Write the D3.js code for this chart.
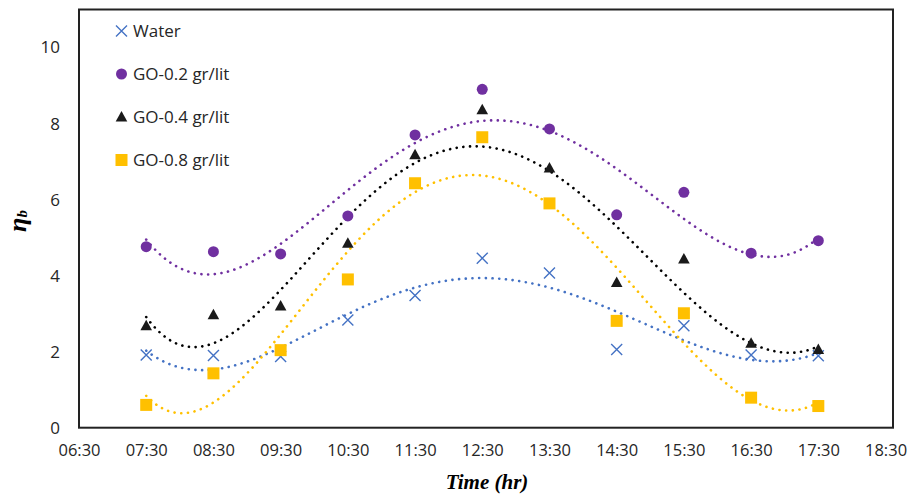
<!DOCTYPE html>
<meta charset="utf-8">
<style>
body { margin: 0; background: #fff; }
text { font-family: "Open Sans", sans-serif; fill: #262626; }
.title { font-family: "Liberation Serif", "Times New Roman", serif; font-weight: bold; font-style: italic; fill: #000; }
.trend { fill: none; stroke-width: 2.6; stroke-linecap: round; stroke-dasharray: 0.1 6.6; }
</style>
<svg width="912" height="496"></svg>
<script src="https://cdn.jsdelivr.net/npm/d3@7"></script>
<script>

// data
var times = ["07:30", "08:30", "09:30", "10:30", "11:30", "12:30", "13:30", "14:30", "15:30", "16:30", "17:30"];
var xTicks = ["06:30", "07:30", "08:30", "09:30", "10:30", "11:30", "12:30", "13:30", "14:30", "15:30", "16:30", "17:30", "18:30"];
var xDomain = ["06:30:00", "18:36:40"];
var yTicks = [0, 2, 4, 6, 8, 10];

var water = [1.91, 1.90, 1.87, 2.83, 3.48, 4.46, 4.07, 2.06, 2.68, 1.91, 1.89];
var go02  = [4.76, 4.63, 4.57, 5.57, 7.70, 8.90, 7.86, 5.60, 6.19, 4.59, 4.92];
var go04  = [2.68, 2.97, 3.20, 4.85, 7.18, 8.36, 6.83, 3.82, 4.44, 2.22, 2.06];
var go08  = [0.60, 1.43, 2.04, 3.90, 6.43, 7.64, 5.90, 2.81, 3.01, 0.79, 0.57];

var names  = ["Water", "GO-0.2 gr/lit", "GO-0.4 gr/lit", "GO-0.8 gr/lit"];
var colors = ["#4472C4", "#7030A0", "#000000", "#FFC000"];
var shapes = ["cross", "circle", "triangle", "square"];
var trendOrder = 5;

var svg = d3.select("svg"),
    margin = {top: 9.5, right: 19, bottom: 68.3, left: 79},
    width = svg.attr("width") - margin.left - margin.right,
    height = svg.attr("height") - margin.top - margin.bottom,
    g = svg.append("g").attr("transform", "translate(" + margin.left + "," + margin.top + ")");

var parseTime = d3.timeParse("%H:%M");
var parseFull = d3.timeParse("%H:%M:%S");

var x = d3.scaleTime().domain(xDomain.map(parseFull)).range([0, width]),
    y = d3.scaleLinear().domain([0, 11]).range([height, 0]);

var series = [water, go02, go04, go08].map(function(vals, i) {
  return {
    name: names[i], color: colors[i], shape: shapes[i],
    values: times.map(function(t, j) { return {date: parseTime(t), v: vals[j]}; })
  };
});

// least squares polynomial trendline, like the spreadsheet one
function polyfit(xs, ys, order) {
  var n = order + 1, A = [], b = [];
  for (var r = 0; r < n; r++) {
    A.push([]);
    for (var c = 0; c < n; c++) A[r].push(d3.sum(xs, function(xv) { return Math.pow(xv, r + c); }));
    b.push(d3.sum(xs, function(xv, k) { return ys[k] * Math.pow(xv, r); }));
  }
  for (var p = 0; p < n; p++) {
    var best = p;
    for (var q = p + 1; q < n; q++) if (Math.abs(A[q][p]) > Math.abs(A[best][p])) best = q;
    var tmp = A[p]; A[p] = A[best]; A[best] = tmp;
    var tb = b[p]; b[p] = b[best]; b[best] = tb;
    for (var q2 = p + 1; q2 < n; q2++) {
      var f = A[q2][p] / A[p][p];
      for (var c2 = p; c2 < n; c2++) A[q2][c2] -= f * A[p][c2];
      b[q2] -= f * b[p];
    }
  }
  var coef = new Array(n);
  for (var i = n - 1; i >= 0; i--) {
    var s = b[i];
    for (var j = i + 1; j < n; j++) s -= A[i][j] * coef[j];
    coef[i] = s / A[i][i];
  }
  return function(xv) { return d3.sum(coef, function(cf, k) { return cf * Math.pow(xv, k); }); };
}

var t0 = parseTime("12:30");
function hrs(d) { return (d - t0) / 3600000; }

var line = d3.line()
    .x(function(d) { return x(d.date); })
    .y(function(d) { return y(d.v); });

// trendlines
series.forEach(function(s) {
  var fit = polyfit(s.values.map(function(d) { return hrs(d.date); }), s.values.map(function(d) { return d.v; }), trendOrder);
  var first = s.values[0].date, last = s.values[s.values.length - 1].date;
  var pts = d3.range(0, 201).map(function(k) {
    var dt = new Date(+first + (last - first) * k / 200);
    return {date: dt, v: fit(hrs(dt))};
  });
  g.append("path")
    .attr("class", "trend")
    .attr("stroke", s.color)
    .attr("d", line(pts));
});

function drawMarker(sel, shape, color) {
  if (shape === "circle") {
    sel.append("circle").attr("r", 5.5).attr("fill", color);
  } else if (shape === "square") {
    sel.append("rect").attr("x", -6).attr("y", -6).attr("width", 12).attr("height", 12).attr("fill", color);
  } else if (shape === "triangle") {
    sel.append("path").attr("d", "M0,-6L5.8,4.5L-5.8,4.5Z").attr("fill", "#1a1a1a");
  } else {
    sel.append("path").attr("d", "M-5.5,-5.5L5.5,5.5M-5.5,5.5L5.5,-5.5")
      .attr("stroke", color).attr("stroke-width", 1.4).attr("fill", "none");
  }
}

// markers
series.forEach(function(s) {
  g.append("g").selectAll("g")
    .data(s.values)
    .enter().append("g")
      .attr("transform", function(d) { return "translate(" + x(d.date) + "," + y(d.v) + ")"; })
      .each(function() { drawMarker(d3.select(this), s.shape, s.color); });
});

// frame
g.append("rect")
  .attr("width", width).attr("height", height)
  .attr("fill", "none").attr("stroke", "#222").attr("stroke-width", 2);

// axes
g.append("g")
  .attr("transform", "translate(0," + height + ")")
  .call(d3.axisBottom(x).tickValues(xTicks.map(parseTime)).tickFormat(d3.timeFormat("%H:%M")).tickSize(0).tickPadding(17))
  .call(function(a) { a.select(".domain").remove(); })
  .selectAll("text").style("font-size", "16.5px").attr("fill", "#262626").attr("font-family", null);

g.append("g")
  .call(d3.axisLeft(y).tickValues(yTicks).tickSize(0).tickPadding(19))
  .call(function(a) { a.select(".domain").remove(); })
  .selectAll("text").style("font-size", "17px").attr("fill", "#262626").attr("font-family", null);

// legend
var legend = svg.append("g").selectAll("g")
  .data(series)
  .enter().append("g")
    .attr("transform", function(d, i) { return "translate(121.5," + (31 + i * 43) + ")"; });

legend.each(function(d) { drawMarker(d3.select(this), d.shape, d.color); });
legend.append("text")
  .attr("x", 11.5)
  .attr("dy", "0.35em")
  .style("font-size", "17px")
  .text(function(d) { return d.name; });

// axis titles
svg.append("text")
  .attr("class", "title")
  .attr("x", 487)
  .attr("y", 489)
  .attr("text-anchor", "middle")
  .style("font-size", "21px")
  .text("Time (hr)");

var yt = svg.append("text")
  .attr("class", "title")
  .attr("transform", "translate(26,221) rotate(-90)")
  .attr("text-anchor", "middle")
  .style("font-size", "26px");
yt.append("tspan").text("η");
yt.append("tspan").attr("dy", "0.08em").style("font-size", "15px").text("b");

</script>
